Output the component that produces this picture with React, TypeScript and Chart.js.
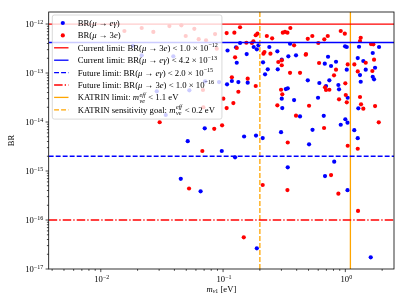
import React, { useEffect, useRef } from "react";
import { Chart, registerables } from "chart.js";
Chart.register(...registerables);

const W = 407;
const H = 305;

// axis ranges
const X_MIN = 0.00375;
const X_MAX = 2.5;
const Y_MIN = 1e-17;
const Y_MAX = 1.76e-12;

// major tick values and their exponent labels
const X_MAJOR = [0.01, 0.1, 1];
const X_MAJOR_EXP = ["−2", "−1", "0"];
const Y_MAJOR = [1e-17, 1e-16, 1e-15, 1e-14, 1e-13, 1e-12];
const Y_MAJOR_EXP = ["−17", "−16", "−15", "−14", "−13", "−12"];

// BR(mu -> e gamma) points
const BLUE_M = [
  0.0183, 0.0216, 0.0392, 0.0713, 0.0927, 0.053, 0.0287, 0.034, 0.1088, 0.1377,
  0.1277, 0.178, 0.1888, 0.1945, 0.156, 0.1294, 0.2123, 0.239, 0.278, 0.353,
  0.342, 0.395, 0.302, 0.232, 0.2205, 0.28, 0.1078, 0.118, 0.1334, 0.159,
  0.493, 0.326, 0.338, 0.302, 0.381, 0.305, 0.426, 0.1486, 0.186, 0.211,
  0.298, 0.539, 0.995, 1.027, 1.294, 1.887, 0.722, 1.263, 1.403, 1.675,
  0.839, 0.679, 0.764, 1.027, 1.468, 1.75, 1.318, 1.675, 1.717, 0.74,
  0.613, 0.877, 0.888, 1.336, 0.695, 1.046, 0.598, 1.277, 0.666, 1.0,
  1.042, 0.917, 1.183, 1.263, 0.0708, 0.0514, 0.0976, 0.505, 0.1254, 0.811,
  0.338, 0.682, 0.0451, 0.0655, 1.042, 0.1888, 1.613,
];
const BLUE_BR = [
  3.6e-13, 2.3e-13, 2.19e-13, 6.78e-14, 6.55e-14, 4.44e-14, 4.24e-14, 1.39e-14, 2.88e-13, 4.1e-13,
  3.34e-13, 3.4e-13, 3.05e-13, 3.67e-13, 2.44e-13, 1.62e-13, 1.65e-13, 3.4e-13, 2.77e-13, 3.96e-13,
  2.19e-13, 2.3e-13, 1.87e-13, 1.19e-13, 9.4e-14, 1.19e-13, 5.88e-14, 6.87e-14, 6.55e-14, 6.34e-14,
  7.1e-14, 4.71e-14, 4.88e-14, 2.99e-14, 2.81e-14, 1.93e-14, 1.3e-14, 5.06e-15, 5.3e-15, 4.71e-15,
  6.19e-15, 6.93e-15, 3.51e-13, 3.4e-13, 3.44e-13, 3.4e-13, 2.15e-13, 2.02e-13, 1.76e-13, 2.56e-13,
  1.7e-13, 1.55e-13, 1.39e-13, 1.17e-13, 1.17e-13, 1.28e-13, 9.1e-14, 8.4e-14, 7.43e-14, 7.1e-14,
  6.25e-14, 5.69e-14, 4.65e-14, 6.64e-14, 5.43e-14, 3.13e-14, 3.13e-14, 1.9e-14, 1.34e-14, 1.14e-14,
  9.68e-15, 8.8e-15, 6.81e-15, 4.67e-15, 7.43e-15, 4.06e-15, 2.56e-15, 3.51e-15, 1.9e-15, 1.55e-15,
  1.19e-15, 7.9e-16, 6.93e-16, 3.85e-16, 4.06e-16, 2.64e-17, 1.73e-17,
];

// BR(mu -> 3e) points
const RED_M = [
  0.0156, 0.0216, 0.0269, 0.0364, 0.0456, 0.0495, 0.0582, 0.0632, 0.0726, 0.086,
  0.0888, 0.0685, 0.1005, 0.069, 0.107, 0.1237, 0.1377, 0.177, 0.185, 0.191,
  0.1294, 0.155, 0.172, 0.218, 0.214, 0.228, 0.252, 0.244, 0.1254, 0.283,
  0.302, 0.302, 0.308, 0.321, 0.336, 0.355, 0.381, 0.474, 0.493, 0.537,
  0.353, 0.426, 0.118, 0.159, 0.185, 0.1334, 0.298, 0.305, 0.1214, 0.107,
  0.278, 0.395, 0.601, 0.673, 0.718, 0.917, 0.99, 1.336, 1.318, 1.622,
  1.694, 0.477, 0.61, 1.046, 1.185, 1.468, 1.717, 0.839, 0.808, 1.263,
  1.663, 1.0, 0.682, 0.695, 0.74, 1.008, 1.318, 0.888, 1.027, 1.344,
  1.403, 0.505, 1.75, 1.876, 0.67, 0.0303, 0.0847, 0.0982, 0.338, 1.046,
  1.263, 0.0677, 0.764, 0.0527, 0.211, 0.336, 0.877, 0.1477, 1.27,
];
const RED_BR = [
  7.2e-13, 8.3e-13, 6.9e-13, 9.1e-13, 9.4e-13, 5.7e-13, 8.0e-13, 4.9e-13, 4.65e-13, 6.25e-13,
  3.13e-13, 4.5e-14, 2.99e-14, 2.0e-14, 6.55e-13, 6.65e-13, 8.6e-13, 4.43e-13, 5.9e-13, 6.35e-13,
  3.24e-13, 4.15e-13, 4.1e-13, 2.68e-13, 2.48e-13, 5.7e-13, 5.1e-13, 2.48e-13, 2.09e-13, 1.68e-13,
  1.82e-13, 1.44e-13, 6.65e-13, 6.9e-13, 6.65e-13, 8.3e-13, 3.67e-13, 2.36e-13, 5.0e-13, 5.7e-13,
  1.01e-13, 1.01e-13, 8.2e-14, 7.65e-14, 5.43e-14, 4.15e-14, 4.56e-14, 3.67e-14, 2.44e-14, 1.93e-14,
  2.19e-14, 1.35e-14, 4.1e-13, 4.88e-13, 5.7e-13, 7.2e-13, 6.35e-13, 5.25e-13, 4.5e-13, 3.9e-13,
  3.85e-13, 2.44e-13, 1.6e-13, 1.5e-13, 1.5e-13, 1.62e-13, 1.87e-13, 1.17e-13, 8.97e-14, 1.08e-13,
  1.1e-13, 6.17e-14, 5.1e-14, 4.5e-14, 4.56e-14, 3.56e-14, 3.24e-14, 2.9e-14, 2.52e-14, 2.3e-14,
  1.87e-14, 2.15e-14, 2.12e-14, 9.86e-15, 7.55e-15, 9.9e-15, 7.26e-15, 8.57e-15, 3.82e-15, 3.28e-15,
  2.85e-15, 2.56e-15, 8.28e-16, 4.4e-16, 5.18e-16, 4.09e-16, 3.44e-16, 4.44e-17, 1.53e-16,
];

// reference limits
const H_LIMIT_VALUES = [1e-12, 4.2e-13, 2e-15, 1e-16];
const H_LIMIT_COLORS = ["#ff0000", "#0000ff", "#0000ff", "#ff0000"];
const V_LIMIT_VALUES = [1.1, 0.2];
const V_LIMIT_COLORS = ["#ffa500", "#ffa500"];

const DASH_SOLID: number[] = [];
const DASH_DASHED = [4.9, 2.1];
const DASH_DASHDOT = [8.5, 2.1, 1.3, 2.1];
const H_LIMIT_DASHES = [DASH_SOLID, DASH_SOLID, DASH_DASHED, DASH_DASHDOT];
const V_LIMIT_DASHES = [DASH_SOLID, DASH_DASHED];

type Seg = { t: string; k?: string; s?: string };

const LEGEND_LABELS: Seg[][] = [
  [{ t: "BR(" }, { t: "μ", k: "i" }, { t: " → " }, { t: "eγ", k: "i" }, { t: ")" }],
  [{ t: "BR(" }, { t: "μ", k: "i" }, { t: " → 3" }, { t: "e", k: "i" }, { t: ")" }],
  [{ t: "Current limit: BR(" }, { t: "μ", k: "i" }, { t: " → 3" }, { t: "e", k: "i" }, { t: ") < 1.0 × 10" }, { t: "−12", k: "sup" }],
  [{ t: "Current limit: BR(" }, { t: "μ", k: "i" }, { t: " → " }, { t: "eγ", k: "i" }, { t: ") < 4.2 × 10" }, { t: "−13", k: "sup" }],
  [{ t: "Future limit: BR(" }, { t: "μ", k: "i" }, { t: " → " }, { t: "eγ", k: "i" }, { t: ") < 2.0 × 10" }, { t: "−15", k: "sup" }],
  [{ t: "Future limit: BR(" }, { t: "μ", k: "i" }, { t: " → 3" }, { t: "e", k: "i" }, { t: ") < 1.0 × 10" }, { t: "−16", k: "sup" }],
  [{ t: "KATRIN limit: " }, { t: "m", k: "i" }, { t: "eff", s: "νe", k: "stack" }, { t: " < 1.1 eV" }],
  [{ t: "KATRIN sensitivity goal: " }, { t: "m", k: "i" }, { t: "eff", s: "νe", k: "stack" }, { t: " < 0.2 eV" }],
];
// legend handle: "dot" or line, with colour and dash
const LEGEND_KIND = ["dot", "dot", "line", "line", "line", "line", "line", "line"];
const LEGEND_COLORS = ["#0000ff", "#ff0000", "#ff0000", "#0000ff", "#0000ff", "#ff0000", "#ffa500", "#ffa500"];
const LEGEND_DASHES = [DASH_SOLID, DASH_SOLID, DASH_SOLID, DASH_SOLID, DASH_DASHED, DASH_DASHDOT, DASH_SOLID, DASH_DASHED];

const FAMILY = "'Liberation Serif', 'DejaVu Serif', serif";
const fnt = (size: number, italic = false) => `${italic ? "italic " : ""}${size}px ${FAMILY}`;

function segWidth(ctx: CanvasRenderingContext2D, s: Seg, size: number) {
  if (s.k === "stack") {
    ctx.font = fnt(size * 0.7, true);
    return Math.max(ctx.measureText(s.t).width, ctx.measureText(s.s || "").width) + 1;
  }
  const small = s.k === "sup" || s.k === "sub" || s.k === "subi";
  ctx.font = fnt(small ? size * 0.7 : size, s.k === "i" || s.k === "subi");
  return ctx.measureText(s.t).width;
}

function drawRich(ctx: CanvasRenderingContext2D, segs: Seg[], x: number, y: number, size: number, align: string) {
  const widths = segs.map((s) => segWidth(ctx, s, size));
  const total = widths.reduce((a, b) => a + b, 0);
  let cx = align === "center" ? x - total / 2 : align === "right" ? x - total : x;
  ctx.textAlign = "left";
  ctx.textBaseline = "alphabetic";
  segs.forEach((s, i) => {
    if (s.k === "stack") {
      ctx.font = fnt(size * 0.7, true);
      ctx.fillText(s.t, cx + 0.5, y - size * 0.42);
      ctx.fillText(s.s || "", cx + 0.5, y + size * 0.28);
    } else {
      const sup = s.k === "sup";
      const sub = s.k === "sub" || s.k === "subi";
      ctx.font = fnt(sup || sub ? size * 0.7 : size, s.k === "i" || s.k === "subi");
      const dy = sup ? -size * 0.4 : sub ? size * 0.22 : 0;
      ctx.fillText(s.t, cx, y + dy);
    }
    cx += widths[i];
  });
  return total;
}

const decorPlugin = {
  id: "decor",
  afterDatasetsDraw(chart: any) {
    const ctx: CanvasRenderingContext2D = chart.ctx;
    const area = chart.chartArea;
    // legend
    const size = 8.7;
    const boxL = area.left + 3.6;
    const boxT = area.top + 3;
    const textX = boxL + 25.4;
    let maxW = 0;
    LEGEND_LABELS.forEach((segs) => {
      const w = segs.map((s) => segWidth(ctx, s, size)).reduce((a, b) => a + b, 0);
      if (w > maxW) maxW = w;
    });
    const boxW = textX - boxL + maxW + 4;
    const rowH = 12.4;
    const boxH = 8 + rowH * (LEGEND_LABELS.length - 1) + 9.3;
    ctx.save();
    ctx.beginPath();
    (ctx as any).roundRect(boxL, boxT, boxW, boxH, 2);
    ctx.fillStyle = "rgba(255,255,255,0.8)";
    ctx.fill();
    ctx.strokeStyle = "rgba(204,204,204,0.9)";
    ctx.lineWidth = 0.8;
    ctx.stroke();
    LEGEND_LABELS.forEach((segs, i) => {
      const cy = boxT + 8 + rowH * i;
      if (LEGEND_KIND[i] === "dot") {
        ctx.beginPath();
        ctx.arc(boxL + 10.5, cy, 2.1, 0, Math.PI * 2);
        ctx.fillStyle = LEGEND_COLORS[i];
        ctx.fill();
      } else {
        ctx.beginPath();
        ctx.setLineDash(LEGEND_DASHES[i]);
        ctx.moveTo(boxL + 1.8, cy);
        ctx.lineTo(boxL + 16.2, cy);
        ctx.strokeStyle = LEGEND_COLORS[i];
        ctx.lineWidth = 1.3;
        ctx.stroke();
        ctx.setLineDash([]);
      }
      ctx.fillStyle = "#000";
      drawRich(ctx, segs, textX, cy + 2.9, size, "left");
    });
    ctx.restore();
  },
  afterDraw(chart: any) {
    const ctx: CanvasRenderingContext2D = chart.ctx;
    const area = chart.chartArea;
    const xs = chart.scales.x;
    const ys = chart.scales.y;
    ctx.save();
    ctx.strokeStyle = "#000";
    ctx.lineWidth = 0.8;
    ctx.strokeRect(area.left, area.top, area.right - area.left, area.bottom - area.top);
    // x ticks
    ctx.beginPath();
    for (let e = -3; e <= 0; e++) {
      for (let m = 1; m <= 9; m++) {
        const v = m * Math.pow(10, e);
        if (v < X_MIN || v > X_MAX) continue;
        const px = xs.getPixelForValue(v);
        const len = m === 1 ? 3.1 : 1.8;
        ctx.moveTo(px, area.bottom);
        ctx.lineTo(px, area.bottom + len);
      }
    }
    // y ticks
    for (let e = -17; e <= -12; e++) {
      for (let m = 1; m <= 9; m++) {
        const v = m * Math.pow(10, e);
        if (v < Y_MIN || v > Y_MAX) continue;
        const py = ys.getPixelForValue(v);
        const len = m === 1 ? 3.1 : 1.8;
        ctx.moveTo(area.left, py);
        ctx.lineTo(area.left - len, py);
      }
    }
    ctx.lineWidth = 0.7;
    ctx.stroke();
    ctx.fillStyle = "#000";
    const ts = 8.6;
    X_MAJOR.forEach((v, i) => {
      const px = xs.getPixelForValue(v);
      drawRich(ctx, [{ t: "10" }, { t: X_MAJOR_EXP[i], k: "sup" }], px + 1, area.bottom + 13, ts, "center");
    });
    Y_MAJOR.forEach((v, i) => {
      const py = ys.getPixelForValue(v);
      drawRich(ctx, [{ t: "10" }, { t: Y_MAJOR_EXP[i], k: "sup" }], area.left - 5.5, py + 3, ts, "right");
    });
    // axis titles
    drawRich(
      ctx,
      [{ t: "m", k: "i" }, { t: "ν", k: "subi" }, { t: "1", k: "sub" }, { t: " [eV]" }],
      (area.left + area.right) / 2,
      area.bottom + 22.5,
      ts,
      "center"
    );
    ctx.save();
    ctx.translate(area.left - 35, (area.top + area.bottom) / 2);
    ctx.rotate(-Math.PI / 2);
    drawRich(ctx, [{ t: "BR" }], 0, 0, ts, "center");
    ctx.restore();
    ctx.restore();
  },
};

export default function App() {
  const ref = useRef<HTMLCanvasElement>(null);
  useEffect(() => {
    const canvas = ref.current;
    if (!canvas) return;
    const pts = (xs: number[], ys: number[]) => xs.map((x, i) => ({ x, y: ys[i] }));
    const datasets: any[] = [];
    H_LIMIT_VALUES.forEach((v, i) => {
      datasets.push({
        type: "line",
        data: [
          { x: X_MIN, y: v },
          { x: X_MAX, y: v },
        ],
        borderColor: H_LIMIT_COLORS[i],
        borderWidth: 1.3,
        borderDash: H_LIMIT_DASHES[i],
        pointRadius: 0,
        showLine: true,
        order: 1,
      });
    });
    V_LIMIT_VALUES.forEach((v, i) => {
      datasets.push({
        type: "line",
        data: [
          { x: v, y: Y_MIN },
          { x: v, y: Y_MAX },
        ],
        borderColor: V_LIMIT_COLORS[i],
        borderWidth: 1.3,
        borderDash: V_LIMIT_DASHES[i],
        pointRadius: 0,
        showLine: true,
        order: 1,
      });
    });
    datasets.push({
      data: pts(RED_M, RED_BR),
      backgroundColor: "#ff0000",
      borderWidth: 0,
      pointRadius: 2.1,
      order: 2,
    });
    datasets.push({
      data: pts(BLUE_M, BLUE_BR),
      backgroundColor: "#0000ff",
      borderWidth: 0,
      pointRadius: 2.1,
      order: 3,
    });
    const chart = new Chart(canvas, {
      type: "scatter",
      data: { datasets },
      options: {
        responsive: false,
        animation: false,
        devicePixelRatio: 1,
        layout: { padding: { left: 48.7, top: 12, right: 13, bottom: 36 } },
        plugins: { legend: { display: false }, tooltip: { enabled: false } },
        scales: {
          x: { type: "logarithmic", min: X_MIN, max: X_MAX, display: false },
          y: { type: "logarithmic", min: Y_MIN, max: Y_MAX, display: false },
        },
      },
      plugins: [decorPlugin],
    } as any);
    return () => chart.destroy();
  }, []);
  return (
    <div style={{ position: "fixed", left: 0, top: 0, width: W, height: H, background: "#fff" }}>
      <canvas ref={ref} width={W} height={H} style={{ display: "block", width: W, height: H }} />
    </div>
  );
}
